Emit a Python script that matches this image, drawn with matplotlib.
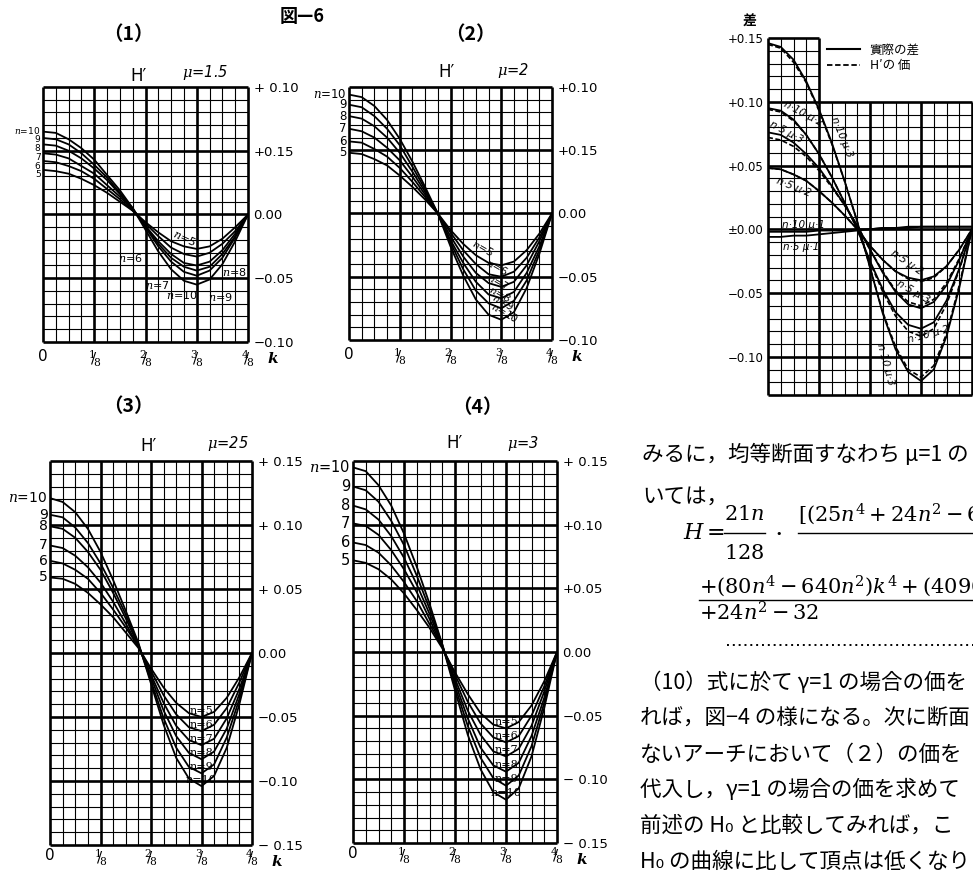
import numpy as np
import matplotlib.pyplot as plt
from matplotlib.lines import Line2D

plt.rcParams['font.family'] = ['DejaVu Sans']
plt.rcParams['mathtext.fontset'] = 'dejavuserif'

W, H = 973, 872
JP = ['Noto Sans CJK JP', 'DejaVu Sans']

# x = k/32, k = 0..16  (0 .. 4/8 of span)
k_pos = np.arange(17) / 32
n_vals = [5, 6, 7, 8, 9, 10]

# H' curves, one row per n = 5..10
h_mu15 = [
    [0.035, 0.034, 0.032, 0.028, 0.023, 0.017, 0.010, 0.003, -0.006, -0.014, -0.021, -0.025, -0.027, -0.025, -0.019, -0.010, 0],
    [0.042, 0.041, 0.038, 0.034, 0.028, 0.020, 0.012, 0.003, -0.007, -0.017, -0.026, -0.031, -0.033, -0.030, -0.023, -0.013, 0],
    [0.048, 0.047, 0.044, 0.038, 0.032, 0.023, 0.014, 0.004, -0.009, -0.021, -0.031, -0.038, -0.040, -0.037, -0.028, -0.015, 0],
    [0.055, 0.054, 0.050, 0.044, 0.036, 0.027, 0.016, 0.004, -0.009, -0.023, -0.034, -0.041, -0.044, -0.041, -0.031, -0.017, 0],
    [0.060, 0.059, 0.055, 0.048, 0.039, 0.029, 0.017, 0.005, -0.010, -0.025, -0.037, -0.045, -0.048, -0.044, -0.034, -0.018, 0],
    [0.065, 0.064, 0.059, 0.052, 0.043, 0.031, 0.019, 0.005, -0.012, -0.029, -0.043, -0.052, -0.055, -0.051, -0.039, -0.021, 0],
]
h_mu2 = [
    [0.048, 0.047, 0.043, 0.038, 0.030, 0.021, 0.011, 0, -0.013, -0.024, -0.033, -0.039, -0.041, -0.038, -0.029, -0.016, 0],
    [0.057, 0.056, 0.051, 0.045, 0.036, 0.025, 0.013, 0, -0.015, -0.029, -0.040, -0.048, -0.050, -0.046, -0.035, -0.019, 0],
    [0.067, 0.065, 0.060, 0.052, 0.042, 0.029, 0.015, 0, -0.018, -0.034, -0.047, -0.055, -0.058, -0.054, -0.041, -0.022, 0],
    [0.077, 0.075, 0.069, 0.060, 0.048, 0.033, 0.017, 0, -0.021, -0.039, -0.054, -0.064, -0.067, -0.062, -0.047, -0.026, 0],
    [0.086, 0.084, 0.077, 0.067, 0.054, 0.037, 0.019, 0, -0.023, -0.044, -0.061, -0.071, -0.075, -0.069, -0.053, -0.029, 0],
    [0.094, 0.092, 0.085, 0.074, 0.059, 0.041, 0.021, 0, -0.026, -0.049, -0.068, -0.080, -0.084, -0.078, -0.059, -0.032, 0],
]
h_mu25 = [
    [0.059, 0.058, 0.054, 0.047, 0.038, 0.028, 0.016, 0.004, -0.012, -0.027, -0.039, -0.047, -0.050, -0.046, -0.035, -0.019, 0],
    [0.072, 0.070, 0.065, 0.058, 0.047, 0.034, 0.020, 0.005, -0.014, -0.033, -0.048, -0.058, -0.061, -0.056, -0.043, -0.023, 0],
    [0.084, 0.082, 0.076, 0.067, 0.055, 0.040, 0.023, 0.005, -0.017, -0.039, -0.057, -0.068, -0.072, -0.067, -0.051, -0.028, 0],
    [0.099, 0.097, 0.090, 0.079, 0.065, 0.047, 0.027, 0.006, -0.019, -0.045, -0.065, -0.078, -0.083, -0.077, -0.059, -0.032, 0],
    [0.108, 0.106, 0.098, 0.086, 0.070, 0.051, 0.030, 0.007, -0.022, -0.051, -0.074, -0.089, -0.094, -0.087, -0.066, -0.036, 0],
    [0.121, 0.118, 0.110, 0.097, 0.079, 0.057, 0.033, 0.008, -0.024, -0.056, -0.082, -0.098, -0.104, -0.096, -0.074, -0.040, 0],
]
h_mu3 = [
    [0.072, 0.070, 0.065, 0.057, 0.046, 0.033, 0.019, 0.003, -0.016, -0.033, -0.048, -0.057, -0.060, -0.055, -0.042, -0.023, 0],
    [0.086, 0.084, 0.078, 0.068, 0.055, 0.040, 0.022, 0.004, -0.018, -0.039, -0.056, -0.067, -0.071, -0.066, -0.050, -0.027, 0],
    [0.101, 0.099, 0.092, 0.080, 0.065, 0.047, 0.026, 0.004, -0.021, -0.046, -0.065, -0.078, -0.082, -0.076, -0.058, -0.031, 0],
    [0.115, 0.112, 0.104, 0.091, 0.074, 0.053, 0.030, 0.005, -0.024, -0.052, -0.075, -0.089, -0.094, -0.087, -0.066, -0.036, 0],
    [0.130, 0.127, 0.118, 0.103, 0.084, 0.060, 0.034, 0.006, -0.027, -0.058, -0.083, -0.099, -0.105, -0.097, -0.074, -0.040, 0],
    [0.145, 0.142, 0.131, 0.115, 0.093, 0.067, 0.038, 0.006, -0.030, -0.065, -0.092, -0.110, -0.116, -0.107, -0.082, -0.044, 0],
]

# actual difference (solid curves of the right plate)
d_n10_mu3 = [0.146, 0.143, 0.133, 0.116, 0.094, 0.068, 0.038, 0.006, -0.030, -0.066, -0.094, -0.112, -0.119, -0.110, -0.084, -0.046, 0]
d_n10_mu2 = [0.095, 0.093, 0.086, 0.074, 0.059, 0.041, 0.021, 0, -0.025, -0.047, -0.065, -0.075, -0.078, -0.073, -0.056, -0.031, 0]
d_n5_mu3 = [0.076, 0.074, 0.068, 0.059, 0.048, 0.034, 0.019, 0.003, -0.016, -0.034, -0.049, -0.059, -0.062, -0.057, -0.044, -0.024, 0]
d_n5_mu2 = [0.048, 0.047, 0.043, 0.038, 0.030, 0.021, 0.011, 0, -0.013, -0.024, -0.033, -0.038, -0.040, -0.037, -0.029, -0.016, 0]
d_n10_mu1 = [-0.002, -0.002, -0.002, -0.002, -0.001, -0.001, -0.001, 0, 0, 0.001, 0.001, 0.001, 0.002, 0.002, 0.002, 0.002, 0.002]
d_n5_mu1 = [-0.006, -0.006, -0.005, -0.005, -0.004, -0.003, -0.002, -0.001, 0, 0.001, 0.001, 0.002, 0.002, 0.002, 0.002, 0.002, 0.002]

x_labels = ['0', r'$^{1}\!\!/\!_{8}$', r'$^{2}\!\!/\!_{8}$', r'$^{3}\!\!/\!_{8}$', r'$^{4}\!\!/\!_{8}$']
y_ticks_small = [0.10, 0.05, 0.0, -0.05, -0.10]
y_ticks_big = [0.15, 0.10, 0.05, 0.0, -0.05, -0.10, -0.15]
y_lab1 = ['+ 0.10', '+0.15', '0.00', '\u22120.05', '\u22120.10']
y_lab2 = ['+0.10', '+0.15', '0.00', '\u22120.05', '\u22120.10']
y_lab3 = ['+ 0.15', '+ 0.10', '+ 0.05', '0.00', '\u22120.05', '\u22120.10', '\u2212 0.15']
y_lab4 = ['+ 0.15', '+0.10', '+0.05', '0.00', '\u22120.05', '\u2212 0.10', '\u2212 0.15']
y_ticks_r = [0.15, 0.10, 0.05, 0.0, -0.05, -0.10]
y_lab_r = ['+0.15', '+0.10', '+0.05', '\u00b10.00', '\u22120.05', '\u22120.10']

fig = plt.figure(figsize=(W / 100, H / 100), dpi=100)
fig.patch.set_facecolor('white')


def px_axes(l, t, r, b):
    return fig.add_axes([l / W, 1 - b / H, (r - l) / W, (b - t) / H])


def ptext(x, y, s, **kw):
    kw.setdefault('ha', 'left')
    kw.setdefault('va', 'center')
    return fig.text(x / W, 1 - y / H, s, **kw)


def draw_grid(ax, ymin, ymax, ycut=None):
    ax.set_xlim(0, 0.5)
    ax.set_ylim(ymin, ymax)
    for s in ax.spines.values():
        s.set_visible(False)
    for i, x in enumerate(k_pos):
        lw = 1.9 if i % 4 == 0 else 0.8
        top = ymax if (ycut is None or x <= 1 / 8 + 1e-9) else ycut
        ax.vlines(x, ymin, top, color='k', lw=lw, zorder=1, clip_on=False)
    nrow = int(round((ymax - ymin) / 0.01))
    for j in range(nrow + 1):
        y = ymin + j * 0.01
        major = int(round(y * 100)) % 5 == 0 or j in (0, nrow)
        right = 0.5 if (ycut is None or y <= ycut + 1e-9) else 1 / 8
        ax.hlines(y, 0, right, color='k', lw=1.9 if major else 0.8, zorder=1, clip_on=False)
    ax.tick_params(length=0)


def plate(ax, curves, ymin, ymax, yticks, ylabels, nsize, xpad=5, nlab_y=None):
    draw_grid(ax, ymin, ymax)
    for row in curves:
        ax.plot(k_pos, row, color='k', lw=1.3, zorder=3)
    ax.set_xticks([0, 1 / 8, 2 / 8, 3 / 8, 4 / 8])
    ax.set_xticklabels(x_labels, fontsize=11)
    ax.tick_params(axis='x', pad=xpad)
    ax.yaxis.tick_right()
    ax.set_yticks(yticks)
    ax.set_yticklabels(ylabels, fontsize=9.5)
    ax.tick_params(axis='y', pad=4)
    ax.annotate('k', xy=(0.5, 0), xycoords=('data', 'axes fraction'), xytext=(14, -12),
                textcoords='offset points', fontsize=11, fontweight='bold', fontstyle='italic',
                family='DejaVu Serif', va='center')
    if nlab_y is None:
        nlab_y = [row[0] for row in curves]
    for n, y in zip(n_vals, nlab_y):
        lab = r'$n$=10' if n == 10 else str(n)
        ax.text(-0.006, y, lab, ha='right', va='center', fontsize=nsize)


# ---- plate (1) mu = 1.5
ax1 = px_axes(43, 87, 248, 342)
p1_nlab_y = [0.031, 0.038, 0.045, 0.052, 0.059, 0.066]
plate(ax1, h_mu15, -0.10, 0.10, y_ticks_small, y_lab1, 6.5, nlab_y=p1_nlab_y)
p1_pos = [(0.346, -0.018, -25), (0.212, -0.034, 0), (0.278, -0.055, 0),
          (0.468, -0.045, 0), (0.432, -0.065, 0), (0.339, -0.063, 0)]
for n, (x, y, r) in zip(n_vals, p1_pos):
    ax1.text(x, y, r'$n$=%d' % n, fontsize=8, ha='center', va='center', rotation=r, zorder=4)

# ---- plate (2) mu = 2
ax2 = px_axes(349, 87, 552, 340)
plate(ax2, h_mu2, -0.10, 0.10, y_ticks_small, y_lab2, 8.5)
p2_x = [0.330, 0.365, 0.367, 0.372, 0.379, 0.384]
p2_y = [-0.027, -0.042, -0.054, -0.063, -0.070, -0.078]
for n, x, y in zip(n_vals, p2_x, p2_y):
    ax2.text(x, y, r'$n$=%d' % n, fontsize=7.5, ha='center', va='center', rotation=-30, zorder=4)

# ---- plate (3) mu = 2.5
ax3 = px_axes(50, 461, 252, 845)
plate(ax3, h_mu25, -0.15, 0.15, y_ticks_big, y_lab3, 10, xpad=2)
for n, row in zip(n_vals, h_mu25):
    ax3.text(k_pos[12], row[12] + 0.001, 'n=%d' % n, fontsize=8, ha='center', va='bottom',
             family='DejaVu Serif', zorder=4)

# ---- plate (4) mu = 3
ax4 = px_axes(353, 461, 557, 843)
plate(ax4, h_mu3, -0.15, 0.15, y_ticks_big, y_lab4, 10.5, xpad=2)
for n, row in zip(n_vals, h_mu3):
    ax4.text(k_pos[12], row[12] + 0.001, 'n=%d' % n, fontsize=8, ha='center', va='bottom',
             family='DejaVu Serif', zorder=4)

# plate headings
ptext(302, 17, '図—6', ha='center', family=JP, fontsize=13, fontweight='bold')
for x, y, s in [(128, 35, '（1）'), (470, 35, '（2）'), (128, 407, '（3）'), (477, 408, '（4）')]:
    ptext(x, y, s, ha='center', family=JP, fontsize=14, fontweight='bold')
for x, y, s in [(138, 76, "H\u2032"), (447, 72, "H\u2032"), (148, 446, "H\u2032"), (455, 443, "H\u2032")]:
    ptext(x, y, s, ha='center', fontsize=12)
for x, y, s in [(205, 73, r'$\mu$=1.5'), (513, 70, r'$\mu$=2'), (228, 443, r'$\mu$=25'), (523, 443, r'$\mu$=3')]:
    ptext(x, y, s, ha='center', fontsize=10.5, fontstyle='italic')

# ---- right plate: actual difference vs H'
axr = px_axes(768, 38, 972, 395)
draw_grid(axr, -0.13, 0.15, ycut=0.10)
axr.set_xticks([])
axr.set_yticks(y_ticks_r)
axr.set_yticklabels(y_lab_r, fontsize=8.5)
axr.tick_params(axis='y', pad=3)
solid = [d_n10_mu3, d_n10_mu2, d_n5_mu3, d_n5_mu2, d_n10_mu1, d_n5_mu1]
dashed = [h_mu3[5], h_mu2[5], h_mu3[0], h_mu2[0]]
for row in solid:
    axr.plot(k_pos, row, color='k', lw=1.3, zorder=3)
for row in dashed:
    axr.plot(k_pos, row, color='k', lw=1.2, ls=(0, (3, 1.5)), zorder=3)
leg_h = [Line2D([], [], color='k', lw=1.5), Line2D([], [], color='k', lw=1.3, ls=(0, (3, 1.5)))]
axr.legend(leg_h, ['實際の差', "H\u2032の 価"], loc='upper left', bbox_to_anchor=(0.29, 0.985),
           frameon=False, prop={'family': JP, 'size': 9}, handlelength=2.6, labelspacing=0.25,
           borderpad=0, borderaxespad=0)
r_labels = [(0.181, 0.072, -68, 'n·10 μ·3'), (0.086, 0.091, -28, 'n·10 μ·2'),
            (0.044, 0.076, -28, 'n·5 μ·3'), (0.064, 0.033, -22, 'n·5 μ·2'),
            (0.086, 0.0035, 0, 'n·10 μ·1'), (0.081, -0.014, 0, 'n·5 μ·1'),
            (0.341, -0.026, -35, 'n·5 μ·2'), (0.355, -0.049, -30, 'n·5 μ·3'),
            (0.392, -0.083, 15, 'n·10 μ·2'), (0.287, -0.106, -75, 'n·10 μ·3')]
for x, y, r, s in r_labels:
    axr.text(x, y, s, fontsize=7.5, fontstyle='italic', ha='center', va='center', rotation=r, zorder=4)
ptext(750, 22, '差', ha='center', family=JP, fontsize=10, fontweight='bold')

# ---- body text
ptext(642, 455, 'みるに，均等断面すなわち μ=1 の', family=JP, fontsize=15.5)
ptext(642, 497, 'いては，', family=JP, fontsize=15.5)
ptext(683, 533, r'$H=$', fontsize=16)
ptext(744, 514, r'$21n$', ha='center', fontsize=15)
ptext(744, 553, r'$128$', ha='center', fontsize=15)
fig.add_artist(Line2D([724 / W, 765 / W], [1 - 533 / H] * 2, color='k', lw=1))
ptext(779, 534, '•', ha='center', fontsize=8)
ptext(798, 514, r'$[(25n^4+24n^2-64)$', fontsize=15)
fig.add_artist(Line2D([798 / W, 980 / W], [1 - 533 / H] * 2, color='k', lw=1))
ptext(699, 586, r'$+(80n^4-640n^2)k^4+(4096+1$', fontsize=15)
fig.add_artist(Line2D([699 / W, 980 / W], [1 - 600 / H] * 2, color='k', lw=1))
ptext(699, 613, r'$+24n^2-32$', fontsize=15)
fig.add_artist(Line2D([727 / W, 980 / W], [1 - 645 / H] * 2, color='k', lw=1.4, ls=(0, (1, 2))))

body = ['（10）式に於て γ=1 の場合の価を',
        'れば，図−4 の様になる。次に断面',
        'ないアーチにおいて（２）の価を',
        '代入し，γ=1 の場合の価を求めて',
        '前述の H₀ と比較してみれば，こ',
        'H₀ の曲線に比して頂点は低くなり']
for i, line in enumerate(body):
    ptext(640, 683 + i * 35.8, line, family=JP, fontsize=15.5)

fig.savefig('out.png', dpi=100)
